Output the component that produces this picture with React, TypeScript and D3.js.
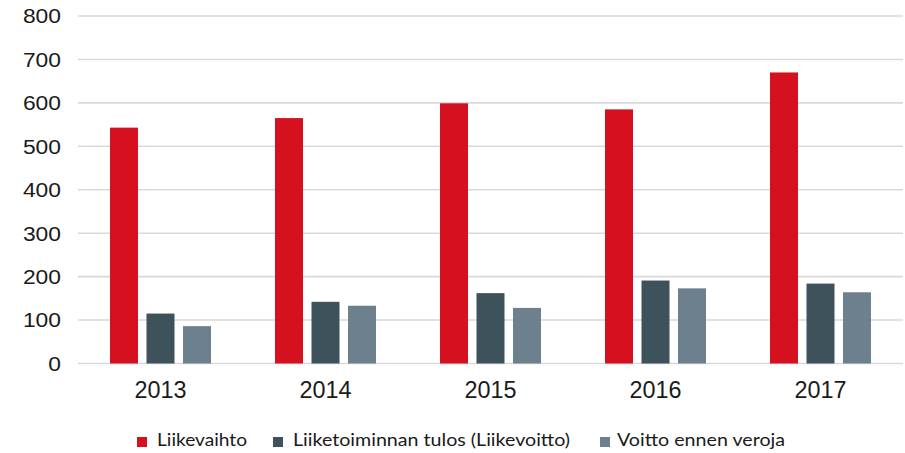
import React from "react";
import * as d3 from "d3";

const years = ["2013", "2014", "2015", "2016", "2017"];
const liikevaihto = [543, 565, 599, 585, 670];
const liiketulos = [115, 142, 162, 191, 184];
const voittoEnnenVeroja = [86, 133, 128, 173, 164];
const seriesNames = ["Liikevaihto", "Liiketoiminnan tulos (Liikevoitto)", "Voitto ennen veroja"];
const yTicks = [0, 100, 200, 300, 400, 500, 600, 700, 800];

const colors = ["#D5101F", "#3E525B", "#6C818D"];

export default function App() {
  const W = 905, H = 453;
  const left = 78, right = 903, top = 16, bottom = 363.5;
  const series = [liikevaihto, liiketulos, voittoEnnenVeroja];

  const x0 = d3.scaleBand<string>().domain(years).range([left, right]).paddingInner(0.388).paddingOuter(0.194);
  const x1 = d3.scaleBand<number>().domain([0, 1, 2]).range([0, x0.bandwidth()]).paddingInner(0.233).paddingOuter(0);
  const y = d3.scaleLinear().domain([0, 800]).range([bottom, top]);

  const legendItems = [
    { mx: 137, tx: 157, w: 90 },
    { mx: 273, tx: 293, w: 277 },
    { mx: 600, tx: 617, w: 168 },
  ];

  return (
    <svg width={W} height={H} style={{ position: "absolute", left: 0, top: 0, background: "#fff" }}>
      <rect width={W} height={H} fill="#fff" />
      {yTicks.map((t) => (
        <g key={t}>
          <line x1={left} x2={right} y1={y(t)} y2={y(t)} stroke="#d9d9d9" strokeWidth={1.6} />
          <text
            x={61}
            y={y(t)}
            dy="0.36em"
            textAnchor="end"
            fontFamily="'Liberation Sans', Arial, sans-serif"
            fontSize={20.5}
            fill="#1a1a1a"
            textLength={String(t).length * 12.7}
            lengthAdjust="spacingAndGlyphs"
          >
            {t}
          </text>
        </g>
      ))}
      {years.map((yr, i) => (
        <g key={yr}>
          {series.map((s, k) => (
            <rect
              key={k}
              x={(x0(yr) as number) + (x1(k) as number)}
              y={y(s[i])}
              width={x1.bandwidth()}
              height={y(0) - y(s[i])}
              fill={colors[k]}
            />
          ))}
          <text
            x={(x0(yr) as number) + x0.bandwidth() / 2}
            y={398}
            textAnchor="middle"
            fontFamily="'Liberation Sans', Arial, sans-serif"
            fontSize={23}
            fill="#1a1a1a"
            textLength={52}
            lengthAdjust="spacingAndGlyphs"
          >
            {yr}
          </text>
        </g>
      ))}
      {seriesNames.map((name, k) => (
        <g key={name}>
          <rect x={legendItems[k].mx} y={437} width={10} height={10} fill={colors[k]} />
          <text
            x={legendItems[k].tx}
            y={446}
            fontFamily="Lato, 'Open Sans', sans-serif"
            fontSize={17}
            fill="#1a1a1a"
            textLength={legendItems[k].w}
            lengthAdjust="spacingAndGlyphs"
          >
            {name}
          </text>
        </g>
      ))}
    </svg>
  );
}
